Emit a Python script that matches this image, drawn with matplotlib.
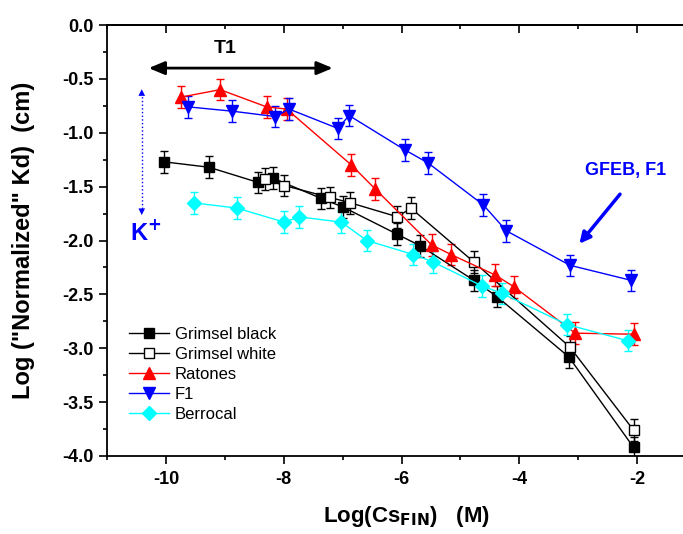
import matplotlib
matplotlib.use('Agg')
from matplotlib import pyplot as plt
from matplotlib.ticker import MultipleLocator, FormatStrFormatter
from matplotlib.lines import Line2D
import numpy as np

plt.rcParams['font.family'] = ['Liberation Sans', 'DejaVu Sans']
plt.rcParams['axes.unicode_minus'] = False

# Grimsel black
x_gb = [-10.03, -9.27, -8.44, -8.19, -7.36, -6.99, -6.08, -5.68, -4.77, -4.38, -3.16, -2.06]
y_gb = [-1.27, -1.32, -1.46, -1.42, -1.61, -1.69, -1.94, -2.05, -2.37, -2.52, -3.08, -3.92]
# Grimsel white
x_gw = [-8.32, -7.99, -7.22, -6.87, -6.07, -5.84, -4.77, -3.14, -2.06]
y_gw = [-1.43, -1.49, -1.60, -1.65, -1.78, -1.70, -2.20, -2.99, -3.76]
# Ratones
x_ra = [-9.75, -9.08, -8.29, -7.95, -6.85, -6.45, -5.49, -5.16, -4.41, -4.09, -3.05, -2.05]
y_ra = [-0.67, -0.60, -0.76, -0.78, -1.30, -1.52, -2.04, -2.13, -2.32, -2.43, -2.86, -2.87]
# F1
x_f1 = [-9.62, -8.87, -8.14, -7.91, -7.08, -6.89, -5.94, -5.55, -4.61, -4.22, -3.14, -2.10]
y_f1 = [-0.76, -0.80, -0.85, -0.78, -0.96, -0.84, -1.16, -1.28, -1.67, -1.91, -2.23, -2.37]
# Berrocal
x_be = [-9.53, -8.79, -7.99, -7.74, -7.02, -6.59, -5.80, -5.46, -4.64, -4.30, -3.19, -2.16]
y_be = [-1.65, -1.70, -1.83, -1.78, -1.83, -2.00, -2.13, -2.20, -2.42, -2.49, -2.78, -2.93]

err = 0.1

fig = plt.figure(figsize=(6.83, 5.34), dpi=100)
ax = fig.add_axes([107/683, 78/534, 589/683, 431/534])

handles = []
def series(x, y, label, color, marker, ms, mfc=None):
    fc = mfc if mfc else color
    ax.errorbar(x, y, yerr=err, color=color, marker=marker, ms=ms, lw=1,
                mfc=fc, mec=color, capsize=3, elinewidth=1, capthick=1)
    handles.append(Line2D([], [], color=color, marker=marker, ms=ms, lw=1,
                          mfc=fc, mec=color, label=label))

series(x_gb, y_gb, 'Grimsel black', 'black', 's', 7)
series(x_gw, y_gw, 'Grimsel white', 'black', 's', 7, mfc='white')
series(x_ra, y_ra, 'Ratones', 'red', '^', 9)
series(x_f1, y_f1, 'F1', 'blue', 'v', 9)
series(x_be, y_be, 'Berrocal', 'cyan', 'D', 7)

ax.set_xlim(-11, -1)
ax.set_ylim(-4, 0)
ax.xaxis.set_major_locator(MultipleLocator(2))
ax.xaxis.set_minor_locator(MultipleLocator(1))
ax.yaxis.set_major_locator(MultipleLocator(0.5))
ax.yaxis.set_minor_locator(MultipleLocator(0.25))
ax.yaxis.set_major_formatter(FormatStrFormatter('%.1f'))
ax.tick_params(which='major', length=6, width=1.2, labelsize=13)
ax.tick_params(axis='x', which='major', pad=5)
ax.tick_params(which='minor', length=3, width=1.2)
for t in ax.get_xticklabels() + ax.get_yticklabels():
    t.set_fontweight('bold')
for s in ax.spines.values():
    s.set_linewidth(1.3)

top = ax.secondary_xaxis('top')
top.xaxis.set_major_locator(MultipleLocator(2))
top.xaxis.set_minor_locator(MultipleLocator(1))
top.tick_params(which='major', direction='in', length=6, width=1.2, labeltop=False)
top.tick_params(which='minor', direction='in', length=3, width=1.2)
top.spines['top'].set_linewidth(1.3)

ax.set_xlabel(r'Log(Cs$_{\mathbf{FIN}}$)   (M)', fontsize=16, fontweight='bold')
ax.set_ylabel('Log ("Normalized" Kd)  (cm)', fontsize=17, fontweight='bold')
ax.xaxis.set_label_coords(0.508, -0.112)
ax.yaxis.set_label_coords(-0.122, 0.5)

leg = ax.legend(handles=handles, loc='upper left', bbox_to_anchor=(0.037, 0.30), frameon=False,
                fontsize=12, handlelength=2.4, handletextpad=0.35, labelspacing=0.3,
                borderpad=0, borderaxespad=0)

# T1 arrow
ax.annotate('', xy=(-10.34, -0.40), xytext=(-7.12, -0.40),
            arrowprops=dict(arrowstyle='<|-|>,head_length=0.6,head_width=0.25',
                            color='black', lw=2, mutation_scale=16))
ax.text(-9.0, -0.22, 'T1', fontsize=14, fontweight='bold', ha='center', va='center')

# K+ dotted arrow
ax.plot([-10.41, -10.41], [-0.63, -1.72], color='blue', lw=1, ls=':')
ax.annotate('', xy=(-10.41, -0.57), xytext=(-10.41, -0.70),
            arrowprops=dict(arrowstyle='-|>', color='blue', lw=0, mutation_scale=12))
ax.annotate('', xy=(-10.41, -1.79), xytext=(-10.41, -1.66),
            arrowprops=dict(arrowstyle='-|>', color='blue', lw=0, mutation_scale=12))
ax.text(-10.35, -1.93, r'K$^{\mathbf{+}}$', fontsize=17, fontweight='bold', color='blue',
        ha='center', va='center')

# GFEB arrow
ax.text(-2.2, -1.35, 'GFEB, F1', fontsize=13, fontweight='bold', color='blue',
        ha='center', va='center')
ax.annotate('', xy=(-3.01, -2.05), xytext=(-2.26, -1.55),
            arrowprops=dict(arrowstyle='-|>', color='blue', lw=2.5, mutation_scale=16))

fig.savefig('out.png', dpi=100)
